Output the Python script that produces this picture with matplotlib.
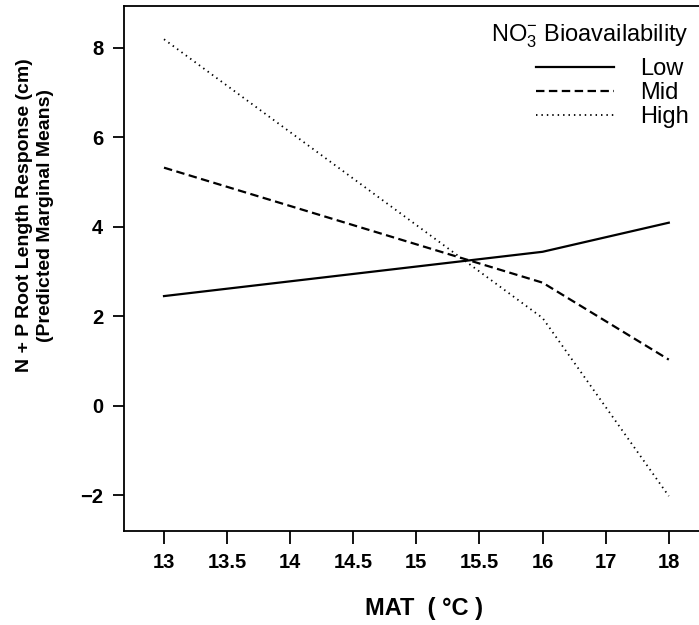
import numpy as np
import matplotlib
matplotlib.use("Agg")
import matplotlib.pyplot as plt
from matplotlib.lines import Line2D

plt.rcParams["font.family"] = ["Liberation Sans", "DejaVu Sans"]
plt.rcParams["mathtext.fontset"] = "custom"
plt.rcParams["mathtext.rm"] = "Liberation Sans"
plt.rcParams["mathtext.it"] = "Liberation Sans"

# predicted marginal means at the bend points of each line
mat = [13, 16, 18]
low = [2.45, 3.44, 4.09]
mid = [5.32, 2.75, 1.03]
high = [8.19, 1.96, -2.02]

xtick_vals = [13, 13.5, 14, 14.5, 15, 15.5, 16, 17, 18]
xtick_labels = ["13", "13.5", "14", "14.5", "15", "15.5", "16", "17", "18"]
ytick_vals = [-2, 0, 2, 4, 6, 8]

SOLID = dict(color="black", lw=1.6, ls="-")
DASH = dict(color="black", lw=1.6, dashes=(3.8, 2))
DOT = dict(color="black", lw=1.3, dashes=(0.8, 2.2))


# axis is stretched below 16 degC (0.5 steps get the same room as 1 degC steps above)
def fwd(x):
    x = np.asarray(x, dtype=float)
    return np.where(x <= 16, (x - 13) * 2, 6 + (x - 16))


def inv(p):
    p = np.asarray(p, dtype=float)
    return np.where(p <= 6, 13 + p / 2, 16 + (p - 6))


fig = plt.figure(figsize=(6.99, 6.25), dpi=100)
ax = fig.add_axes([0.1774, 0.1504, 0.8312, 0.8405])
ax.set_xscale("function", functions=(fwd, inv))

ax.plot(mat, low, label="Low", **SOLID)
ax.plot(mat, mid, label="Mid", **DASH)
ax.plot(mat, high, label="High", **DOT)

ax.set_xlim(12.683, 18.574)
ax.set_ylim(-2.80, 8.94)
ax.set_xticks(xtick_vals)
ax.set_xticklabels(xtick_labels)
ax.set_yticks(ytick_vals)
ax.set_yticklabels(["\u22122", "0", "2", "4", "6", "8"])
ax.minorticks_off()

for s in ax.spines.values():
    s.set_linewidth(1.3)
ax.tick_params(axis="x", length=9, width=1.3, pad=7, labelsize=14.5)
ax.tick_params(axis="y", length=8, width=1.3, pad=7, labelsize=14.5)
for lab in ax.get_xticklabels() + ax.get_yticklabels():
    lab.set_fontweight("bold")

fig.text(35 / 699, 1 - 215 / 625,
         "N + P Root Length Response (cm)\n(Predicted Marginal Means)",
         rotation=90, ha="center", va="center", multialignment="center",
         fontsize=14, fontweight="bold", linespacing=1.32)
fig.text(424 / 699, 1 - 609 / 625, "MAT  ( \u00b0C )", ha="center", va="center",
         fontsize=17, fontweight="bold")

handles = [Line2D([], [], **SOLID), Line2D([], [], **DASH), Line2D([], [], **DOT)]
leg = ax.legend(handles, ["Low", "Mid", "High"], title=r"NO$_3^{-}$ Bioavailability",
                loc="upper right", bbox_to_anchor=(689 / 699, 1 - 23 / 625),
                bbox_transform=fig.transFigure, frameon=False,
                fontsize=17, title_fontsize=17, handlelength=3.3,
                handletextpad=1.1, labelspacing=0.08, borderaxespad=0,
                borderpad=0, alignment="right")
# a bit more room between the title and the first entry
leg._legend_box.sep = 5.4

fig.savefig("out.png", dpi=100)
